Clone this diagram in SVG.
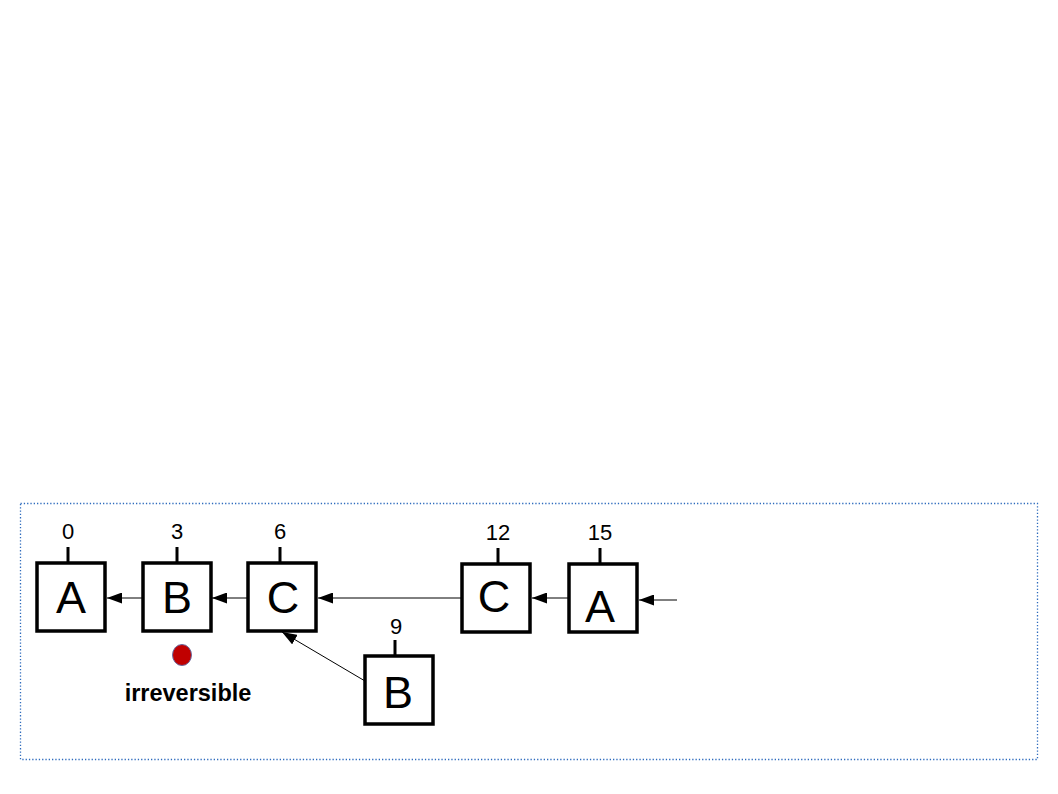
<svg xmlns="http://www.w3.org/2000/svg" width="1058" height="794" viewBox="0 0 1058 794">
<style>
.box{fill:#fff;stroke:#000;stroke-width:3.5}
.tick{stroke:#000;stroke-width:3}
.big{font-family:"Liberation Sans",Arial,sans-serif;font-size:45px;text-anchor:middle;fill:#000}
.num{font-family:"Liberation Sans",Arial,sans-serif;font-size:22px;text-anchor:middle;fill:#000}
.con{stroke:#000;stroke-width:1;fill:none;marker-end:url(#ah)}
</style>
<defs>
<marker id="ah" viewBox="0 0 15 11" refX="15" refY="5.5" markerWidth="15" markerHeight="11" markerUnits="userSpaceOnUse" orient="auto">
<path d="M0,0 L15,5.5 L0,11 Z" fill="#000"/>
</marker>
</defs>
<rect x="20.5" y="503.5" width="1017" height="256" fill="none" stroke="#2e6bbd" stroke-width="1.3" stroke-dasharray="1.3,2"/>
<g id="connectors">
<line class="con" x1="677" y1="600" x2="639" y2="600"/>
<line class="con" x1="569" y1="598" x2="532" y2="598"/>
<line class="con" x1="462" y1="598" x2="318" y2="598"/>
<line class="con" x1="248" y1="598" x2="212" y2="598"/>
<line class="con" x1="143" y1="598" x2="107" y2="598"/>
<line class="con" x1="365" y1="681" x2="282" y2="632"/>
</g>
<g id="n0">
<line class="tick" x1="68" y1="547" x2="68" y2="563"/>
<rect class="box" x="37" y="563" width="68" height="68"/>
<text class="big" x="71" y="613">A</text>
<text class="num" x="68" y="539">0</text>
</g>
<g id="n3">
<line class="tick" x1="177" y1="547" x2="177" y2="563"/>
<rect class="box" x="143" y="563" width="68" height="68"/>
<text class="big" x="177" y="613">B</text>
<text class="num" x="177" y="539">3</text>
</g>
<g id="n6">
<line class="tick" x1="280" y1="547" x2="280" y2="563"/>
<rect class="box" x="248" y="563" width="68" height="68"/>
<text class="big" x="283" y="613">C</text>
<text class="num" x="280" y="539">6</text>
</g>
<g id="n9">
<line class="tick" x1="395" y1="640" x2="395" y2="656"/>
<rect class="box" x="365" y="656" width="68" height="68"/>
<text class="big" x="398" y="708">B</text>
<text class="num" x="396" y="634">9</text>
</g>
<g id="n12">
<line class="tick" x1="498" y1="548" x2="498" y2="564"/>
<rect class="box" x="462" y="564" width="68" height="68"/>
<text class="big" x="494" y="612">C</text>
<text class="num" x="498" y="540">12</text>
</g>
<g id="n15">
<line class="tick" x1="600" y1="548" x2="600" y2="564"/>
<rect class="box" x="569" y="564" width="68" height="68"/>
<text class="big" x="600" y="622">A</text>
<text class="num" x="600" y="540">15</text>
</g>
<g id="irreversible">
<ellipse cx="182" cy="655" rx="9.5" ry="10.5" fill="#c00000" stroke="#6a6aa0" stroke-width="1"/>
<text x="188" y="701" font-family="'Liberation Sans',Arial,sans-serif" font-size="23.5" font-weight="bold" text-anchor="middle" fill="#000">irreversible</text>
</g>
</svg>
